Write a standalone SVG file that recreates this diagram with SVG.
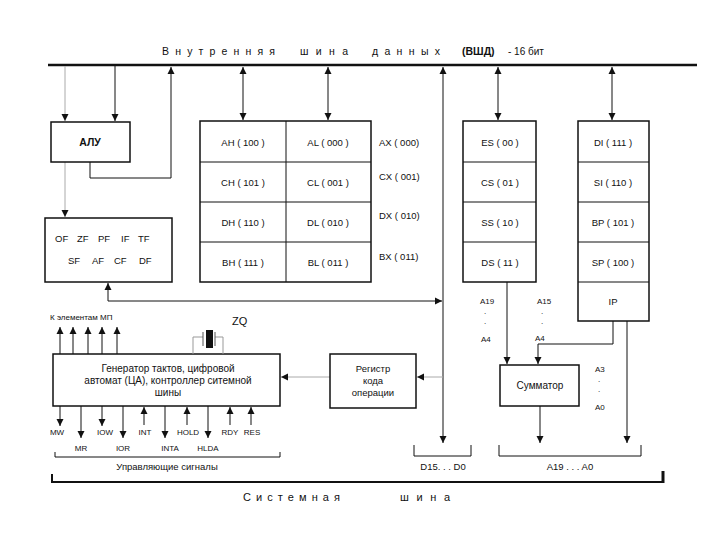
<svg xmlns="http://www.w3.org/2000/svg" width="720" height="540" viewBox="0 0 720 540">
<style>
text{font-family:"Liberation Sans",Arial,sans-serif;fill:#111}
.t{font-size:9.5px}
.s{font-size:8px}
.c{text-anchor:middle}
.box{fill:#fff;stroke:#111;stroke-width:1.5}
.ln{fill:none;stroke:#111;stroke-width:1}
.gr{fill:none;stroke:#aaa;stroke-width:1}
.bus{fill:none;stroke:#111;stroke-width:2.5}
</style>
<defs>
<marker id="a" markerWidth="8" markerHeight="8" refX="7" refY="4" orient="auto" markerUnits="userSpaceOnUse"><path d="M0,0.5 L7,4 L0,7.5 Z" fill="#111"/></marker>
<marker id="as" markerWidth="8" markerHeight="8" refX="0" refY="4" orient="auto" markerUnits="userSpaceOnUse"><path d="M7,0.5 L0,4 L7,7.5 Z" fill="#111"/></marker>
</defs>
<rect width="720" height="540" fill="#fff"/>

<g id="title">
<text x="162" y="55" font-size="10.5" textLength="113" lengthAdjust="spacing">Внутренняя</text>
<text x="300" y="55" font-size="10.5" textLength="48" lengthAdjust="spacing">шина</text>
<text x="372" y="55" font-size="10.5" textLength="68" lengthAdjust="spacing">данных</text>
<text x="462" y="55" font-size="10.5" font-weight="bold">(ВШД)</text>
<text x="508" y="55" font-size="10">- 16 бит</text>
</g>
<g id="internal-bus"><line class="bus" x1="48" y1="65" x2="697" y2="65"/></g>

<g id="connectors">
<line class="gr" x1="65" y1="66" x2="65" y2="121" marker-end="url(#a)"/>
<line class="ln" x1="115" y1="66" x2="115" y2="121" marker-end="url(#a)"/>
<path class="ln" d="M90,162 V178 H171 V67" marker-end="url(#a)"/>
<line class="gr" x1="65" y1="162" x2="65" y2="217" marker-end="url(#a)"/>
<line class="ln" x1="243" y1="67" x2="243" y2="120" marker-start="url(#as)" marker-end="url(#a)"/>
<line class="ln" x1="328" y1="67" x2="328" y2="120" marker-start="url(#as)" marker-end="url(#a)"/>
<line class="ln" x1="498" y1="67" x2="498" y2="120" marker-start="url(#as)" marker-end="url(#a)"/>
<line class="ln" x1="612" y1="67" x2="612" y2="120" marker-start="url(#as)" marker-end="url(#a)"/>
<line class="ln" x1="443" y1="67" x2="443" y2="443" marker-start="url(#as)" marker-end="url(#a)"/>
<path class="ln" d="M108,283 V301 H442" marker-start="url(#as)" marker-end="url(#a)"/>
<line class="gr" x1="443" y1="377" x2="417" y2="377" marker-end="url(#a)"/>
<line class="gr" x1="330" y1="377" x2="281" y2="377" marker-end="url(#a)"/>
<line class="ln" x1="507" y1="282" x2="507" y2="364" marker-end="url(#a)"/>
<path class="ln" d="M613,321 V344 H538 V364" marker-end="url(#a)"/>
<line class="ln" x1="627" y1="321" x2="627" y2="443" marker-end="url(#a)"/>
<line class="ln" x1="540" y1="406" x2="540" y2="443" marker-end="url(#a)"/>
<line class="ln" x1="60" y1="354" x2="60" y2="327" marker-end="url(#a)"/>
<line class="ln" x1="73" y1="354" x2="73" y2="327" marker-end="url(#a)"/>
<line class="ln" x1="88" y1="354" x2="88" y2="327" marker-end="url(#a)"/>
<line class="ln" x1="102" y1="354" x2="102" y2="327" marker-end="url(#a)"/>
<line class="ln" x1="117" y1="354" x2="117" y2="327" marker-end="url(#a)"/>
<line class="ln" x1="60" y1="406" x2="60" y2="426" marker-end="url(#a)"/>
<line class="ln" x1="81" y1="406" x2="81" y2="438" marker-end="url(#a)"/>
<line class="ln" x1="102" y1="406" x2="102" y2="426" marker-end="url(#a)"/>
<line class="ln" x1="123" y1="406" x2="123" y2="438" marker-end="url(#a)"/>
<line class="ln" x1="144" y1="425" x2="144" y2="407" marker-end="url(#a)"/>
<line class="ln" x1="165" y1="406" x2="165" y2="438" marker-end="url(#a)"/>
<line class="ln" x1="187" y1="425" x2="187" y2="407" marker-end="url(#a)"/>
<line class="ln" x1="208" y1="406" x2="208" y2="438" marker-end="url(#a)"/>
<line class="ln" x1="230" y1="425" x2="230" y2="407" marker-end="url(#a)"/>
<line class="ln" x1="251" y1="425" x2="251" y2="407" marker-end="url(#a)"/>
</g>

<g id="alu"><rect class="box" x="51" y="122" width="79" height="40"/>
<text x="90" y="146" class="c" font-size="10.5" font-weight="bold">АЛУ</text></g>

<g id="flags"><rect class="box" x="45" y="218" width="127" height="64"/>
<text class="t" x="55" y="242">OF</text><text class="t" x="77" y="242">ZF</text><text class="t" x="98" y="242">PF</text><text class="t" x="121" y="242">IF</text><text class="t" x="138" y="242">TF</text>
<text class="t" x="68" y="264">SF</text><text class="t" x="92" y="264">AF</text><text class="t" x="114" y="264">CF</text><text class="t" x="139" y="264">DF</text></g>

<g id="registers"><rect class="box" x="200" y="121" width="171" height="161"/>
<path class="ln" d="M286,121 V282 M200,162 H371 M200,202 H371 M200,242 H371" stroke-width="1.5"/>
<text class="t c" x="243" y="146">AH ( 100 )</text><text class="t c" x="328" y="146">AL ( 000 )</text>
<text class="t c" x="243" y="186">CH ( 101 )</text><text class="t c" x="328" y="186">CL ( 001 )</text>
<text class="t c" x="243" y="226">DH ( 110 )</text><text class="t c" x="328" y="226">DL ( 010 )</text>
<text class="t c" x="243" y="266">BH ( 111 )</text><text class="t c" x="328" y="266">BL ( 011 )</text>
<text class="t" x="379" y="146">AX ( 000)</text><text class="t" x="379" y="180">CX ( 001)</text>
<text class="t" x="379" y="219">DX ( 010)</text><text class="t" x="379" y="260">BX ( 011)</text></g>

<g id="segment-registers"><rect class="box" x="463" y="121" width="73" height="161"/>
<path class="ln" d="M463,162 H536 M463,202 H536 M463,242 H536" stroke-width="1.5"/>
<text class="t c" x="500" y="146">ES ( 00 )</text><text class="t c" x="500" y="186">CS ( 01 )</text>
<text class="t c" x="500" y="226">SS ( 10 )</text><text class="t c" x="500" y="266">DS ( 11 )</text></g>

<g id="pointer-registers"><rect class="box" x="578" y="121" width="71" height="200"/>
<path class="ln" d="M578,162 H649 M578,202 H649 M578,242 H649 M578,282 H649" stroke-width="1.5"/>
<text class="t c" x="613" y="146">DI ( 111 )</text><text class="t c" x="613" y="186">SI ( 110 )</text>
<text class="t c" x="613" y="226">BP ( 101 )</text><text class="t c" x="613" y="266">SP ( 100 )</text>
<text class="t c" x="613" y="305">IP</text></g>

<g id="address-labels">
<text class="s" x="480" y="304">A19</text><text class="s" x="484" y="314">.</text><text class="s" x="484" y="324">.</text><text class="s" x="481" y="342">A4</text>
<text class="s" x="537" y="304">A15</text><text class="s" x="541" y="314">.</text><text class="s" x="541" y="324">.</text><text class="s" x="535" y="341">A4</text>
<text class="s" x="595" y="372">A3</text><text class="s" x="598" y="382">.</text><text class="s" x="598" y="392">.</text><text class="s" x="595" y="410">A0</text>
</g>

<g id="summator"><rect class="box" x="500" y="365" width="79" height="41"/>
<text x="540" y="389" class="c" font-size="10">Сумматор</text></g>

<g id="opcode-register"><rect class="box" x="330" y="354" width="86" height="54"/>
<text class="t c" x="373" y="372">Регистр</text><text class="t c" x="373" y="384">кода</text><text class="t c" x="373" y="396">операции</text></g>

<g id="generator"><rect class="box" x="53" y="354" width="227" height="52"/>
<text x="168" y="372" class="c" font-size="10">Генератор  тактов, цифровой</text>
<text x="168" y="384" class="c" font-size="10">автомат (ЦА), контроллер  ситемной</text>
<text x="168" y="396" class="c" font-size="10">шины</text></g>

<g id="crystal-zq">
<path fill="none" stroke="#999" stroke-width="1" d="M193,354 V337 H203 M223,354 V337 H215"/>
<line x1="203" y1="332" x2="203" y2="346" stroke="#555" stroke-width="1"/>
<line x1="215" y1="332" x2="215" y2="346" stroke="#555" stroke-width="1"/>
<rect x="206" y="330" width="7" height="18" fill="#111"/>
<text x="232" y="325" font-size="11">ZQ</text>
</g>

<g id="mp-label"><text x="50" y="320" class="s">К элементам МП</text></g>

<g id="signal-labels">
<text class="s c" x="57" y="435">MW</text><text class="s c" x="81" y="451">MR</text>
<text class="s c" x="105" y="435">IOW</text><text class="s c" x="123" y="451">IOR</text>
<text class="s c" x="145" y="435">INT</text><text class="s c" x="170" y="451">INTA</text>
<text class="s c" x="188" y="435">HOLD</text><text class="s c" x="208" y="451">HLDA</text>
<text class="s c" x="230" y="435">RDY</text><text class="s c" x="252" y="435">RES</text>
</g>

<g id="brackets">
<path class="ln" d="M55,452 V457 H280 V452"/>
<text x="167" y="470" class="t c">Управляющие сигналы</text>
<path class="ln" d="M414,445 V456 H471 V445"/>
<text x="443" y="470" class="t c">D15. . . D0</text>
<path class="ln" d="M499,445 V456 H641 V445"/>
<text x="570" y="470" class="t c">A19 . . . A0</text>
</g>

<g id="system-bus">
<path fill="none" stroke="#111" stroke-width="2" d="M52,474 V482 H663"/>
<line x1="663" y1="471" x2="663" y2="483" stroke="#111" stroke-width="3"/>
<text x="243" y="501" font-size="11" textLength="97" lengthAdjust="spacing">Системная</text>
<text x="400" y="501" font-size="11" textLength="50" lengthAdjust="spacing">шина</text>
</g>
</svg>
